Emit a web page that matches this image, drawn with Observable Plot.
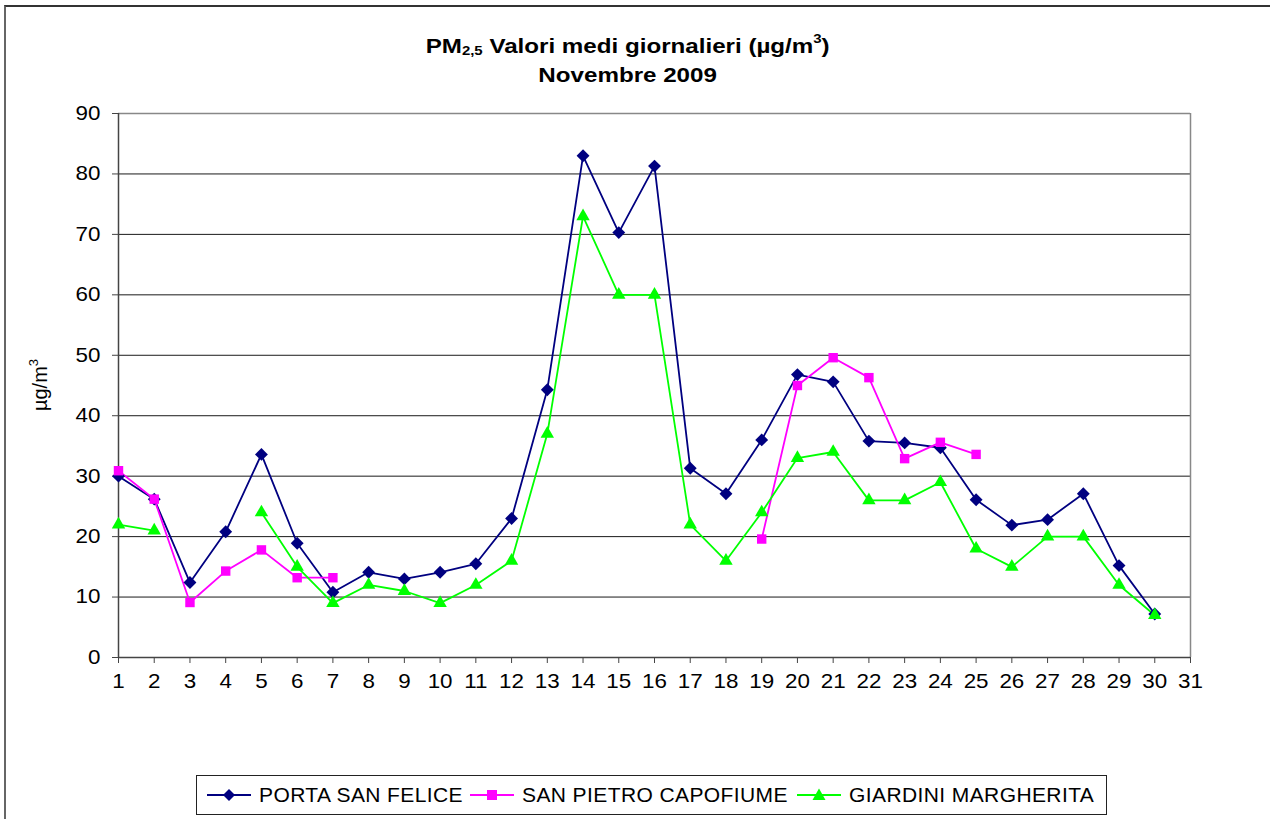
<!DOCTYPE html>
<html><head><meta charset="utf-8">
<script src="https://cdn.jsdelivr.net/npm/d3@7"></script>
<script src="https://cdn.jsdelivr.net/npm/@observablehq/plot@0.6"></script>
<style>
body{margin:0;background:#fff;font-family:"Liberation Sans",Arial,sans-serif;}
#wrap{position:relative;width:1270px;height:819px;overflow:hidden;background:#fff;}
#frame{position:absolute;left:4px;top:5px;width:1400px;height:900px;border-top:2px solid #333;border-left:2px solid #666;}
#chart{position:absolute;left:0;top:0;}
#title{position:absolute;left:0;width:1256px;top:31px;text-align:center;font-weight:bold;font-size:21px;line-height:29px;color:#000;}
#title span{display:inline-block;transform:scaleX(1.15);transform-origin:center;}
#title sub{font-size:13px;vertical-align:-2px;line-height:0;}
#title sup{font-size:13px;vertical-align:10px;line-height:0;}
#ylab{position:absolute;left:40px;top:385px;transform:translate(-50%,-50%) rotate(-90deg);font-size:20px;white-space:nowrap;color:#000;}
#ylab sup{font-size:13px;vertical-align:9px;line-height:0;}
#legend{position:absolute;left:196px;top:775px;width:911px;height:40px;box-sizing:border-box;border:1px solid #222;}
.item{position:absolute;top:0;height:38px;display:flex;align-items:center;font-size:21px;letter-spacing:0.4px;color:#000;white-space:nowrap;}
.item svg{margin-right:8px;}
</style>
</head><body>
<div id="wrap">
  <div id="frame"></div>
  <div id="chart"></div>
  <div id="title"><span>PM<sub>2,5</sub> Valori medi giornalieri (µg/m<sup>3</sup>)</span><br><span>Novembre 2009</span></div>
  <div id="ylab">µg/m<sup>3</sup></div>
  <div id="legend"></div>
</div>
<script>
const days = [1,2,3,4,5,6,7,8,9,10,11,12,13,14,15,16,17,18,19,20,21,22,23,24,25,26,27,28,29,30];
const xTicks = [1,2,3,4,5,6,7,8,9,10,11,12,13,14,15,16,17,18,19,20,21,22,23,24,25,26,27,28,29,30,31];
const yTicks = [0,10,20,30,40,50,60,70,80,90];
const seriesNames = ["PORTA SAN FELICE","SAN PIETRO CAPOFIUME","GIARDINI MARGHERITA"];
const portaSanFelice = [30.0,26.2,12.4,20.8,33.6,18.9,10.8,14.1,13.0,14.1,15.5,23.0,44.3,83.0,70.3,81.3,31.3,27.1,36.0,46.8,45.6,35.8,35.5,34.7,26.1,21.9,22.8,27.1,15.2,7.2];
const sanPietroCapofiume = [30.9,26.2,9.1,14.3,17.8,13.2,13.2,null,null,null,null,null,null,null,null,null,null,null,19.6,45.0,49.6,46.3,32.9,35.6,33.6,null,null,null,null,null];
const giardiniMargherita = [22,21,null,null,24,15,9,12,11,9,12,16,37,73,60,60,22,16,24,33,34,26,26,29,18,15,20,20,12,7];
const colors = ["#000080","#FF00FF","#00FF00"];
const symbols = ["diamond2","square2","triangle2"];
const radii = [5.8,6.0,6.4];

const allValues = [portaSanFelice, sanPietroCapofiume, giardiniMargherita];
const rows = [];
allValues.forEach((vals, s) => vals.forEach((v, i) => rows.push({day: days[i], value: v, series: seriesNames[s]})));

const marks = [
  Plot.ruleY(yTicks.filter(d => d > 0 && d < 90), {stroke: "#000", strokeWidth: 1, strokeOpacity: 0.9}),
  Plot.ruleY([90], {stroke: "#888", strokeWidth: 1.5}),
  Plot.ruleX([31], {stroke: "#888", strokeWidth: 1.5}),
  Plot.axisY({ticks: yTicks, tickSize: 6, tickPadding: 12, fontSize: 20, label: null, stroke: "#444"}),
  Plot.axisX({ticks: xTicks, tickSize: 6, tickPadding: 10, fontSize: 20, label: null, tickFormat: d => String(d), stroke: "#444"}),
  Plot.ruleY([0], {stroke: "#444", strokeWidth: 1.5}),
  Plot.ruleX([1], {stroke: "#444", strokeWidth: 1.5})
];
seriesNames.forEach((name, s) => {
  const data = rows.filter(r => r.series === name);
  marks.push(Plot.line(data, {x: "day", y: "value", stroke: colors[s], strokeWidth: 1.8}));
});
seriesNames.forEach((name, s) => {
  const data = rows.filter(r => r.series === name && r.value != null);
  marks.push(Plot.dot(data, {x: "day", y: "value", fill: colors[s], stroke: "none", symbol: symbols[s], r: radii[s]}));
});

const chart = Plot.plot({
  width: 1270,
  height: 819,
  marginLeft: 118,
  marginRight: 80,
  marginTop: 113,
  marginBottom: 162,
  x: {type: "linear", domain: [1, 31]},
  y: {domain: [0, 90]},
  style: {fontFamily: "'Liberation Sans', Arial, sans-serif", fontSize: "20px", color: "#000", background: "transparent"},
  marks
});
document.getElementById("chart").appendChild(chart);

// widen tick labels slightly, like the reference rendering
chart.querySelectorAll("g[aria-label$='tick label'] text").forEach(t => {
  t.style.fontSize = "20px";
  const tr = t.getAttribute("transform");
  if (tr) t.setAttribute("transform", tr + " scale(1.12,1)");
});

// legend
const legend = document.getElementById("legend");
const itemLeft = [10, 273, 600];
const symPaths = [
  "M22,4L28,10L22,16L16,10Z",
  "M17,5H27V15H17Z",
  "M22,3.5L28.5,15H15.5Z"
];
seriesNames.forEach((name, s) => {
  const div = document.createElement("div");
  div.className = "item";
  div.style.left = itemLeft[s] + "px";
  div.innerHTML = `<svg width="44" height="20"><line x1="0" y1="10" x2="44" y2="10" stroke="${colors[s]}" stroke-width="2"/><path d="${symPaths[s]}" fill="${colors[s]}"/></svg><span>${name}</span>`;
  legend.appendChild(div);
});
</script>
</body></html>
